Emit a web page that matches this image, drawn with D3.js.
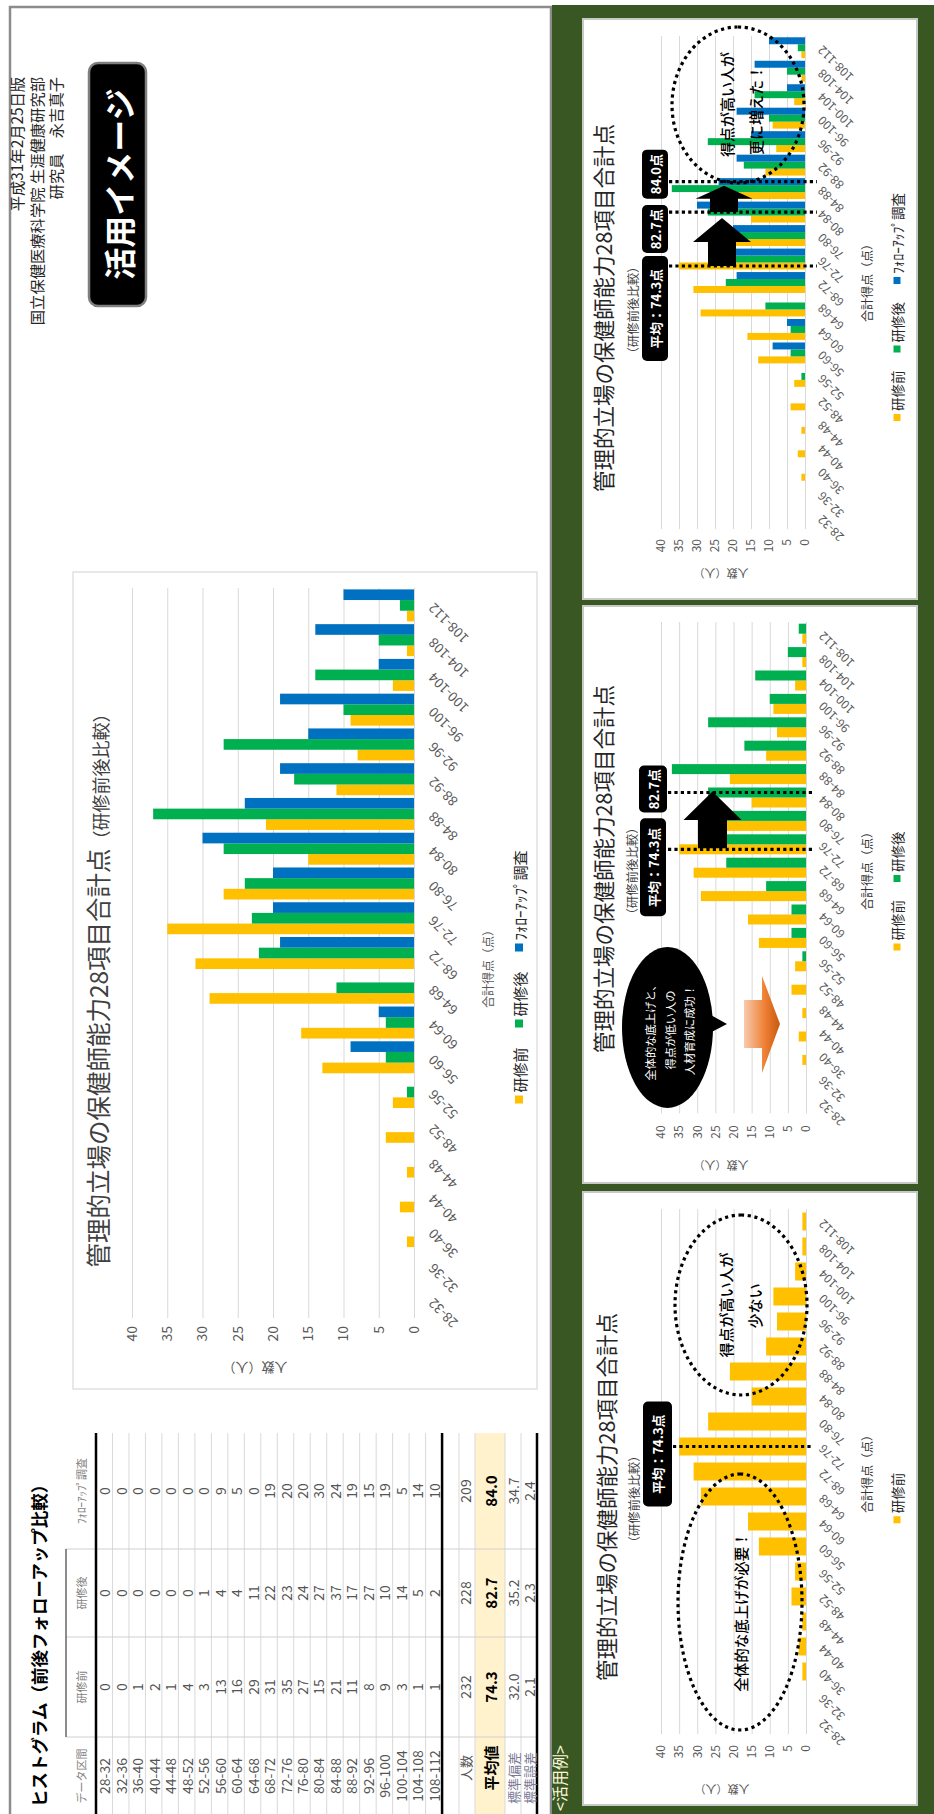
<!DOCTYPE html>
<html><head><meta charset="utf-8">
<script src="https://cdn.jsdelivr.net/npm/d3@7"></script>
<style>
html,body{margin:0;padding:0;background:#fff;}
svg{display:block;}
</style></head><body>
<svg id="c" width="934" height="1814"></svg>
<script>
// ---------------- data ----------------
const categories = ["28-32","32-36","36-40","40-44","44-48","48-52","52-56","56-60","60-64","64-68","68-72",
  "72-76","76-80","80-84","84-88","88-92","92-96","96-100","100-104","104-108","108-112"];
const before   = [0,0,1,2,1,4,3,13,16,29,31,35,27,15,21,11,8,9,3,1,1];
const after    = [0,0,0,0,0,0,1,4,4,11,22,23,24,27,37,17,27,10,14,5,2];
const followup = [0,0,0,0,0,0,0,9,5,0,19,20,20,30,24,19,15,19,5,14,10];
const yTicks = [0,5,10,15,20,25,30,35,40];
const seriesNames = ["研修前","研修後","ﾌｫﾛｰｱｯﾌﾟ調査"];
const seriesColors = ["#FFC000","#00B050","#0070C0"];
const tableHeaders = ["データ区間","研修前","研修後","ﾌｫﾛｰｱｯﾌﾟ調査"];
const summaryLabels = ["人数","平均値","標準偏差","標準誤差"];
const summaryBefore = ["232","74.3","32.0","2.1"];
const summaryAfter  = ["228","82.7","35.2","2.3"];
const summaryFollow = ["209","84.0","34.7","2.4"];
const means = [74.3, 82.7, 84.0];
const meanLabels = ["平均：74.3点","82.7点","84.0点"];

// ---------------- setup ----------------
const FONT = "'Noto Sans CJK JP','Noto Sans',sans-serif";
const seriesData = [before, after, followup];
const svg = d3.select("#c").attr("font-family", FONT);
svg.append("rect").attr("width",934).attr("height",1814).attr("fill","#fff");
// slide is landscape (1814 x 934) rotated -90deg
const root = svg.append("g").attr("transform","translate(0,1814) rotate(-90)");

// panels
root.append("rect").attr("x",-5).attr("y",10).attr("width",1812).attr("height",541)
  .attr("fill","#fff").attr("stroke","#8c8c8c").attr("stroke-width",2.5);
root.append("rect").attr("x",-5).attr("y",552).attr("width",1814).attr("height",390).attr("fill","#385723");

// header texts
root.append("text").attr("x",7).attr("y",46).attr("font-size",17.5).attr("font-weight",700)
  .attr("fill","#000").text("ヒストグラム（前後フォローアップ比較）");
[["平成31年2月25日版",23],["国立保健医療科学院 生涯健康研究部",43],["研究員　永吉真子",62]].forEach(([t,yy])=>{
  root.append("text").attr("x",1737).attr("y",yy).attr("text-anchor","end").attr("font-size",15.3)
    .attr("fill","#262626").text(t);
});
root.append("rect").attr("x",1508).attr("y",89).attr("width",243).attr("height",57).attr("rx",9)
  .attr("fill","#000").attr("stroke","#7f7f7f").attr("stroke-width",2.5);
root.append("text").attr("x",1630).attr("y",118).attr("dominant-baseline","central").attr("text-anchor","middle")
  .attr("font-size",32).attr("font-weight",700).attr("fill","#fff").text("活用イメージ");

// ---------------- table ----------------
(function(){
  const T = root.append("g");
  const rowTop = 96, rowH = 16.48;
  const colC = [38,127,221,323];
  const nR = categories.length;
  const rowEnd = rowTop + rowH*nR;
  T.append("rect").attr("x",0).attr("y",475).attr("width",381).attr("height",30).attr("fill","#FFF2CC");
  for (let i=1;i<nR;i++) T.append("line").attr("x1",0).attr("x2",381).attr("y1",rowTop+i*rowH).attr("y2",rowTop+i*rowH).attr("stroke","#d9d9d9");
  [459,475,505,521].forEach(v=>T.append("line").attr("x1",0).attr("x2",381).attr("y1",v).attr("y2",v).attr("stroke","#d9d9d9"));
  [77,177,265].forEach(v=>T.append("line").attr("x1",v).attr("x2",v).attr("y1",66).attr("y2",537).attr("stroke","#d0d0d0"));
  T.append("line").attr("x1",77).attr("x2",265).attr("y1",66).attr("y2",66).attr("stroke","#404040").attr("stroke-width",1.2);
  [rowTop,rowEnd,537].forEach(v=>T.append("line").attr("x1",0).attr("x2",381).attr("y1",v).attr("y2",v).attr("stroke","#000").attr("stroke-width",2.5));
  tableHeaders.forEach((h,j)=>T.append("text").attr("x",colC[j]).attr("y",81).attr("text-anchor","middle")
    .attr("dominant-baseline","central").attr("font-size",11).attr("fill","#7f7f7f").text(h));
  const cols = [categories, before, after, followup];
  cols.forEach((arr,j)=>{
    T.append("g").selectAll("text").data(arr).join("text")
      .attr("x",colC[j]).attr("y",(d,i)=>rowTop+rowH*(i+0.5)).attr("text-anchor","middle")
      .attr("dominant-baseline","central").attr("font-size",14).attr("fill","#555").text(d=>d);
  });
  const sy = [465,490,513,529];
  const sc = [summaryLabels, summaryBefore, summaryAfter, summaryFollow];
  sc.forEach((arr,j)=>{
    arr.forEach((d,i)=>{
      T.append("text").attr("x", j===0 ? (i>1 ? 36 : 46) : colC[j]).attr("y",sy[i])
        .attr("text-anchor","middle")
        .attr("dominant-baseline","central")
        .attr("font-size", i===1 ? 15 : (j===0 ? 13 : 14))
        .attr("font-weight", i===1 ? 700 : 400)
        .attr("fill", i===1 ? "#000" : (j===0 && i>1 ? "#7a7a95" : "#555")).text(d);
    });
  });
})();

// ---------------- chart helper ----------------
function drawBars(g, cfg){
  const x = d3.scaleBand().domain(categories).range([cfg.x0,cfg.x1]);
  const bw = x.bandwidth();
  const pad = bw*(1-cfg.fill)/2;
  const xs = d3.scaleBand().domain(cfg.series).range([pad,bw-pad]);
  const y = d3.scaleLinear().domain([0,40]).range([cfg.yBase,cfg.yTop]);
  const ya = g.append("g").attr("transform",`translate(${cfg.x0},0)`)
    .call(d3.axisLeft(y).tickValues(yTicks).tickSize(-(cfg.x1-cfg.x0)).tickPadding(cfg.yPad));
  ya.attr("font-family",FONT).attr("font-size",cfg.yFs);
  ya.select(".domain").remove();
  ya.selectAll(".tick line").attr("stroke","#d9d9d9").attr("stroke-width",1);
  ya.selectAll(".tick text").attr("fill","#595959");
  cfg.series.forEach(s=>{
    g.append("g").selectAll("rect").data(categories).join("rect")
      .attr("x",c=>x(c)+xs(s)).attr("width",xs.bandwidth())
      .attr("y",(c,i)=>y(seriesData[s][i]))
      .attr("height",(c,i)=>y(0)-y(seriesData[s][i]))
      .attr("fill",seriesColors[s]);
  });
  const xa = g.append("g").attr("transform",`translate(0,${cfg.yBase})`)
    .call(d3.axisBottom(x).tickSize(0).tickPadding(0));
  xa.attr("font-family",FONT).attr("font-size",cfg.xFs);
  xa.select(".domain").remove();
  xa.selectAll(".tick text").attr("x",0).attr("y",0).attr("dy","0.35em").attr("text-anchor","end")
    .attr("fill","#595959").attr("transform",`translate(0,${cfg.catDy}) rotate(-45)`);
  // axis titles
  g.append("text").attr("transform",`translate(${cfg.yTitle[0]},${cfg.yTitle[1]}) rotate(-90)`)
    .attr("text-anchor","middle").attr("dominant-baseline","central").attr("font-size",cfg.yTitleFs)
    .attr("fill","#595959").text("人数（人）");
  g.append("text").attr("x",cfg.xTitle[0]).attr("y",cfg.xTitle[1]).attr("text-anchor","middle")
    .attr("font-size",cfg.xTitleFs).attr("fill",cfg.xTitleColor).text("合計得点（点）");
  // legend
  const lg = g.append("g");
  let cx = 0;
  cfg.series.forEach(s=>{
    const it = lg.append("g");
    it.append("rect").attr("width",cfg.legMark).attr("height",cfg.legMark).attr("y",-cfg.legMark/2).attr("fill",seriesColors[s]);
    const t = it.append("text").attr("x",cfg.legMark+3).attr("dominant-baseline","central")
      .attr("font-size",cfg.legFs).attr("fill","#262626").text(seriesNames[s]);
    const w = cfg.legMark+3+t.node().getComputedTextLength();
    it.attr("transform",`translate(${cx},0)`);
    cx += w + cfg.legGap;
  });
  const total = cx - cfg.legGap;
  lg.attr("transform",`translate(${cfg.legend[0]-total/2},${cfg.legend[1]})`);
  return {x,xs,y};
}
function meanX(sc, k){
  const bin = categories[Math.floor((means[k]-28)/4)];
  return sc.x(bin)+sc.xs(k)+sc.xs.bandwidth()/2;
}
function dotted(g, x, y1, y2){
  g.append("line").attr("x1",x).attr("x2",x).attr("y1",y1).attr("y2",y2)
    .attr("stroke","#000").attr("stroke-width",3.2).attr("stroke-dasharray","3.2 3.2");
}
function callout(g, x0, x1, y0, y1, label){
  g.append("rect").attr("x",x0).attr("y",y0).attr("width",x1-x0).attr("height",y1-y0).attr("rx",5).attr("fill","#000");
  g.append("text").attr("x",(x0+x1)/2).attr("y",(y0+y1)/2).attr("text-anchor","middle").attr("dominant-baseline","central")
    .attr("font-size",13).attr("font-weight",700).attr("fill","#fff").text(label);
}
function blockArrow(g, xs, xt, yc, hw, sw){
  const hb = xs + (xt-xs)/2;
  g.append("path").attr("d",`M${xs},${yc-sw}L${hb},${yc-sw}L${hb},${yc-hw}L${xt},${yc}L${hb},${yc+hw}L${hb},${yc+sw}L${xs},${yc+sw}Z`)
    .attr("fill","#000");
}
function dotEllipse(g, cx, cy, rx, ry){
  g.append("ellipse").attr("cx",cx).attr("cy",cy).attr("rx",rx).attr("ry",ry).attr("fill","none")
    .attr("stroke","#000").attr("stroke-width",3.2).attr("stroke-dasharray","3.2 3.6");
}
function note(g, x, y, t, fs){
  g.append("text").attr("x",x).attr("y",y).attr("text-anchor","middle").attr("font-size",fs||15)
    .attr("font-weight",500).attr("fill","#000").text(t);
}
function titles(g, cx, cy, sx, sy){
  g.append("text").attr("x",cx).attr("y",cy).attr("text-anchor","middle").attr("font-size",21.5)
    .attr("font-weight",400).attr("fill","#262626").text("管理的立場の保健師能力28項目合計点");
  g.append("text").attr("x",sx).attr("y",sy).attr("text-anchor","middle").attr("font-size",12.4)
    .attr("fill","#404040").text("（研修前後比較）");
}

// ---------------- main chart ----------------
(function(){
  const g = root.append("g");
  g.append("rect").attr("x",425).attr("y",73).attr("width",817).attr("height",464).attr("fill","#fff")
    .attr("stroke","#d9d9d9").attr("stroke-width",1.2);
  drawBars(g,{x0:496,x1:1226,yBase:414,yTop:132,fill:0.92,series:[0,1,2],yPad:8,yFs:14,xFs:13.5,catDy:17,
    yTitle:[446,255],yTitleFs:13,xTitle:[848,493],xTitleFs:12,xTitleColor:"#595959",
    legend:[837,519],legFs:15,legMark:8,legGap:20});
  const t = g.append("text").attr("x",828).attr("y",108).attr("text-anchor","middle").attr("fill","#404040").attr("font-weight",400);
  t.append("tspan").attr("font-size",24.5).text("管理的立場の保健師能力28項目合計点");
  t.append("tspan").attr("font-size",18).text("（研修前後比較）");
})();

// ---------------- example panel ----------------
root.append("text").attr("x",3).attr("y",566).attr("font-size",16).attr("fill","#fff8dc").text("<活用例>");

function smallBox(x0,x1){
  root.append("rect").attr("x",x0).attr("y",583).attr("width",x1-x0).attr("height",334).attr("fill","#fff")
    .attr("stroke","#c8c8c8").attr("stroke-width",2);
}
// Chart A
(function(){
  smallBox(9,622);
  const g = root.append("g");
  const sc = drawBars(g,{x0:80,x1:605,yBase:806,yTop:661,fill:0.72,series:[0],yPad:11,yFs:12,xFs:12,catDy:15,
    yTitle:[24,722],yTitleFs:11,xTitle:[343,872],xTitleFs:12,xTitleColor:"#333",
    legend:[316,897],legFs:13.5,legMark:7,legGap:18});
  titles(g,317,615,315,639);
  const mx = meanX(sc,0);
  dotted(g,mx,673,813);
  callout(g,mx-60,mx+45,643,672,meanLabels[0]);
  dotEllipse(g,212,740,128,62);
  note(g,202,747,"全体的な底上げが必要！",14.5);
  dotEllipse(g,509,741,90,66);
  note(g,509,732,"得点が高い人が");
  note(g,508,761,"少ない");
})();
// Chart B
(function(){
  smallBox(631,1208);
  const g = root.append("g");
  const sc = drawBars(g,{x0:700.6,x1:1192,yBase:806,yTop:661,fill:0.855,series:[0,1],yPad:12,yFs:12,xFs:12,catDy:15,
    yTitle:[648,721],yTitleFs:11,xTitle:[946,872],xTitleFs:12,xTitleColor:"#333",
    legend:[923,897],legFs:13.5,legMark:7,legGap:18});
  titles(g,945,612,943,637);
  const m0 = meanX(sc,0), m1 = meanX(sc,1);
  const grad = root.append("defs").append("linearGradient").attr("id","og").attr("x1",0).attr("y1",0).attr("x2",0).attr("y2",1);
  grad.append("stop").attr("offset","0%").attr("stop-color","#F8CBAD");
  grad.append("stop").attr("offset","60%").attr("stop-color","#ED7D31");
  grad.append("stop").attr("offset","100%").attr("stop-color","#C55A11");
  g.append("path").attr("d","M766,744L814,744L814,762L838,762L790,780L741,762L766,762Z").attr("fill","url(#og)");
  g.append("ellipse").attr("cx",786.5).attr("cy",667.5).attr("rx",80.5).attr("ry",45.5).attr("fill","#000");
  g.append("path").attr("d","M776,700L805,700L790,727Z").attr("fill","#000");
  ["全体的な底上げと、","得点が低い人の","人材育成に成功！"].forEach((t,i)=>{
    g.append("text").attr("x",784).attr("y",655+i*19.5).attr("text-anchor","middle").attr("font-size",11.3)
      .attr("fill","#fff").text(t);
  });
  dotted(g,m0,668,812);
  dotted(g,m1,668,812);
  blockArrow(g,m0+1,m1+1,712.5,29,14.5);
  callout(g,m0-67,m0+31,640,666,meanLabels[0]);
  callout(g,m1-20,m1+27,639,667,meanLabels[1]);
})();
// Chart C
(function(){
  smallBox(1215,1795);
  const g = root.append("g");
  const sc = drawBars(g,{x0:1285,x1:1778,yBase:805,yTop:661,fill:0.89,series:[0,1,2],yPad:10,yFs:12,xFs:12,catDy:15,
    yTitle:[1240,721],yTitleFs:11,xTitle:[1534,872],xTitleFs:12,xTitleColor:"#333",
    legend:[1507,897],legFs:13.5,legMark:7,legGap:18});
  titles(g,1506,612,1504,638);
  const m = [0,1,2].map(k=>meanX(sc,k));
  m.forEach(v=>dotted(g,v,669,817));
  blockArrow(g,m[0],m[1]-6,722,29,14);
  blockArrow(g,m[1],m[2]-4,724,28.5,14);
  dotEllipse(g,1709,738,78,66);
  note(g,1709.5,733,"得点が高い人が");
  note(g,1704,762,"更に増えた！");
  callout(g,m[0]-95,m[0]+10,642,668,meanLabels[0]);
  callout(g,m[1]-41,m[1]+7,642,668,meanLabels[1]);
  callout(g,m[2]-17,m[2]+32,642,668,meanLabels[2]);
})();
</script>
</body></html>
